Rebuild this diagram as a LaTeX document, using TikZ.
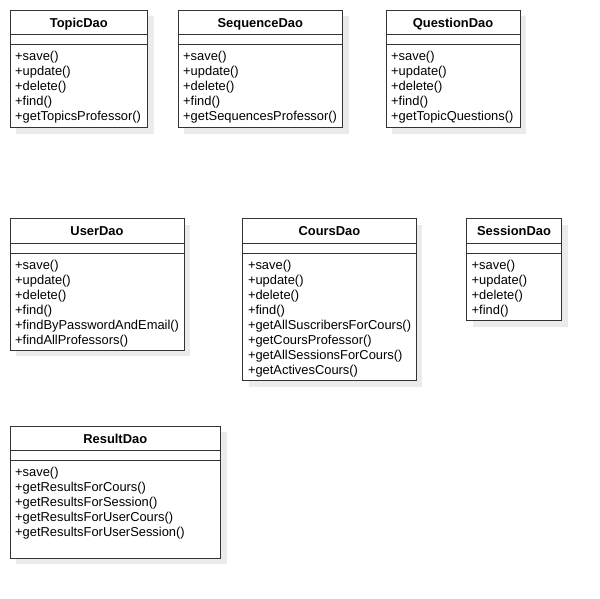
\documentclass[tikz,border=0pt]{standalone}
\usepackage{fontspec}
\setmainfont{Liberation Sans}
\usetikzlibrary{shadows}

\tikzset{
  classbox/.style={draw=black!80, line width=1pt, fill=white, inner sep=0pt,
    anchor=north west,
    drop shadow={shadow xshift=6pt, shadow yshift=-6pt, fill=black!8, opacity=1}},
  sepline/.style={draw=black!80, line width=1pt},
  titletext/.style={font=\fontsize{12.9}{15}\selectfont\bfseries, inner sep=0pt, anchor=base},
  methodtext/.style={font=\fontsize{12.9}{15}\selectfont, inner sep=0pt, anchor=base west},
}

% #1 id, #2 class name, #3 left, #4 top, #5 right, #6 bottom, #7 operations
\newcommand{\daoclass}[7]{%
  \pgfmathsetlengthmacro\daow{(#5-#3)*1pt}%
  \pgfmathsetlengthmacro\daoh{(#6-#4)*1pt}%
  \node[classbox, minimum width=\daow, minimum height=\daoh] (#1) at (#3,#4) {};
  \draw[sepline] ([yshift=-25pt]#1.north west) -- ([yshift=-25pt]#1.north east);
  \draw[sepline] ([yshift=-35pt]#1.north west) -- ([yshift=-35pt]#1.north east);
  \node[titletext] (#1-title) at ([yshift=-17.5pt]#1.north) {#2};
  \foreach \m [count=\i] in {#7} {
    \node[methodtext] (#1-m\i) at ([xshift=5.5pt,yshift={-36pt-15pt*\i}]#1.north west) {\m};
  }%
}

\begin{document}
\begin{tikzpicture}[x=1pt, y=-1pt]
  \useasboundingbox (0,0) rectangle (600,598);
  \fill[white] (0,0) rectangle (600,598);

  \daoclass{topic}{TopicDao}{9.5}{9.5}{147}{127}
    {+save(), +update(), +delete(), +find(), +getTopicsProfessor()}
  \daoclass{sequence}{SequenceDao}{177.5}{9.5}{342}{127}
    {+save(), +update(), +delete(), +find(), +getSequencesProfessor()}
  \daoclass{question}{QuestionDao}{385.5}{9.5}{519.5}{127}
    {+save(), +update(), +delete(), +find(), +getTopicQuestions()}

  \daoclass{user}{UserDao}{9.5}{218.3}{183.5}{349.5}
    {+save(), +update(), +delete(), +find(), +findByPasswordAndEmail(), +findAllProfessors()}
  \daoclass{cours}{CoursDao}{242.3}{218.3}{415.5}{380}
    {+save(), +update(), +delete(), +find(), +getAllSuscribersForCours(), +getCoursProfessor(), +getAllSessionsForCours(), +getActivesCours()}
  \daoclass{session}{SessionDao}{466}{218.3}{561}{320}
    {+save(), +update(), +delete(), +find()}

  \daoclass{result}{ResultDao}{9.5}{425.7}{220}{557.7}
    {+save(), +getResultsForCours(), +getResultsForSession(), +getResultsForUserCours(), +getResultsForUserSession()}
\end{tikzpicture}
\end{document}
